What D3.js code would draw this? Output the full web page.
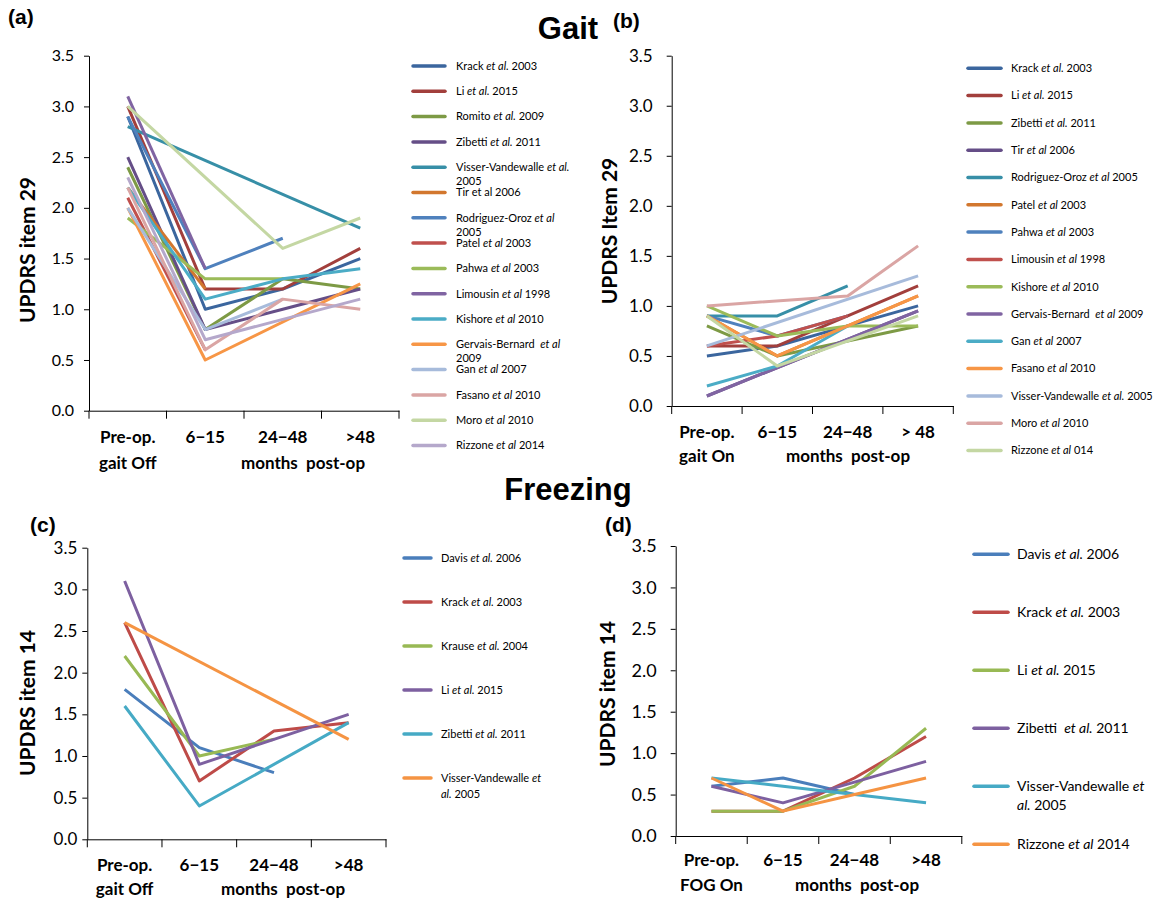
<!DOCTYPE html>
<html><head><meta charset="utf-8">
<script src="https://cdn.jsdelivr.net/npm/d3@7"></script>
<style>
body{margin:0;background:#fff}
svg{display:block}
text{font-family:Lato,"Open Sans",sans-serif;fill:#000}
.title{font-family:"Liberation Sans Narrow","Liberation Sans",sans-serif;font-weight:bold}
</style></head><body>
<svg id="fig" width="1153" height="899"></svg>
<script>
// ---- shared scales ----
const periods = ["pre", "6-15", "24-48", ">48"];
const yTicks = [0, 0.5, 1, 1.5, 2, 2.5, 3, 3.5];

// ---- category tick labels (| = line break) ----
const gaitOffLabels = ["Pre-op.|gait Off", "6\u221215", "24\u221248", ">48"];
const gaitOnLabels = ["Pre-op.|gait On", "6\u221215", "24\u221248", "> 48"];
const fogOffLabels = ["Pre-op.|gait Off", "6\u221215", "24\u221248", ">48"];
const fogOnLabels = ["Pre-op.|FOG On", "6\u221215", "24\u221248", ">48"];

// ---- (a) gait, off medication : UPDRS item 29 ----
const gaitOffStudies = [
  "Krack *et al.* 2003", "Li *et al.* 2015", "Romito *et al.* 2009", "Zibetti *et al.* 2011",
  "Visser-Vandewalle *et al.*|2005", "Tir et al 2006", "Rodriguez-Oroz *et al*|2005", "Patel *et al* 2003",
  "Pahwa *et al* 2003", "Limousin *et al* 1998", "Kishore *et al* 2010", "Gervais-Bernard  *et al*|2009",
  "Gan *et al* 2007", "Fasano *et al* 2010", "Moro *et al* 2010", "Rizzone *et al* 2014"
];
const gaitOffValues = [
  [2.9, 1.0, 1.2, 1.5],
  [3.0, 1.2, 1.2, 1.6],
  [2.4, 0.8, 1.3, 1.2],
  [2.5, 0.8, 1.0, 1.2],
  [2.8, null, null, 1.8],
  [2.2, 1.2, null, null],
  [2.9, 1.4, 1.7, null],
  [2.1, 0.6, null, null],
  [1.9, 1.3, 1.3, null],
  [3.1, 1.4, null, null],
  [2.2, 1.1, 1.3, 1.4],
  [2.0, 0.5, null, 1.25],
  [2.0, 0.8, 1.1, null],
  [2.2, 0.6, 1.1, 1.0],
  [3.0, null, 1.6, 1.9],
  [2.3, 0.7, 0.9, 1.1]
];

// ---- (b) gait, on medication : UPDRS item 29 ----
const gaitOnStudies = [
  "Krack *et al.* 2003", "Li *et al.* 2015", "Zibetti *et al.* 2011", "Tir *et al* 2006",
  "Rodriguez-Oroz *et al* 2005", "Patel *et al* 2003", "Pahwa *et al* 2003", "Limousin *et al* 1998",
  "Kishore *et al* 2010", "Gervais-Bernard  *et al* 2009", "Gan *et al* 2007", "Fasano *et al* 2010",
  "Visser-Vandewalle *et al.* 2005", "Moro *et al* 2010", "Rizzone *et al* 014"
];
const gaitOnValues = [
  [0.5, 0.6, 0.8, 1.0],
  [0.6, 0.6, 0.9, 1.2],
  [0.8, 0.5, null, 0.8],
  [0.1, null, null, 0.95],
  [0.9, 0.9, 1.2, null],
  [0.9, 0.5, 0.8, 1.1],
  [0.9, 0.7, 0.9, null],
  [0.6, 0.7, 0.9, null],
  [1.0, 0.7, 0.8, 0.8],
  [0.1, null, null, 0.95],
  [0.2, 0.4, 0.8, null],
  [0.9, 0.5, 0.8, 1.1],
  [0.6, null, null, 1.3],
  [1.0, null, 1.1, 1.6],
  [0.9, 0.4, null, 0.9]
];

// ---- (c) freezing, off medication : UPDRS item 14 ----
const fogOffStudies = [
  "Davis *et al.* 2006", "Krack *et al.* 2003", "Krause *et al.* 2004", "Li *et al.* 2015",
  "Zibetti *et al.* 2011", "Visser-Vandewalle *et*|*al.* 2005"
];
const fogOffValues = [
  [1.8, 1.1, 0.8, null],
  [2.6, 0.7, 1.3, 1.4],
  [2.2, 1.0, 1.2, null],
  [3.1, 0.9, 1.2, 1.5],
  [1.6, 0.4, null, 1.4],
  [2.6, null, null, 1.2]
];

// ---- (d) freezing, on medication : UPDRS item 14 ----
const fogOnStudies = [
  "Davis *et al.* 2006", "Krack *et al.* 2003", "Li *et al.* 2015", "Zibetti  *et al.* 2011",
  "Visser-Vandewalle *et*|*al.* 2005", "Rizzone *et al* 2014"
];
const fogOnValues = [
  [0.6, 0.7, 0.5, null],
  [0.3, 0.3, 0.7, 1.2],
  [0.3, 0.3, 0.6, 1.3],
  [0.6, 0.4, null, 0.9],
  [0.7, 0.6, 0.5, 0.4],
  [0.7, 0.3, 0.5, 0.7]
];

// ---- Office-style palette: darker, base and lighter accents ----
const darker = ["#3B669E", "#A23F3C", "#7D9A45", "#654E87", "#378FA7", "#D2772E"];
const base = ["#4F81BD", "#C0504D", "#9BBB59", "#8064A2", "#4BACC6", "#F79646"];
const lighter = ["#A7BBDB", "#DAA5A4", "#C4D7A3", "#B5A8CB"];

const svg = d3.select("#fig");

function addRichText(sel, str) {
  str.split("*").forEach((part, i) => {
    if (!part) return;
    sel.append("tspan").attr("font-style", i % 2 ? "italic" : "normal").text(part);
  });
}

function drawPanel(cfg) {
  const g = svg.append("g");
  const x = d3.scaleBand().domain(periods).range([cfg.x0, cfg.x1]);
  const y = d3.scaleLinear().domain([0, 3.5]).range([cfg.yBottom, cfg.yTop]);
  const cx = p => x(p) + x.bandwidth() / 2;

  // y axis
  const ya = g.append("g").attr("transform", `translate(${cfg.x0},0)`)
    .call(d3.axisLeft(y).tickValues(yTicks).tickFormat(d3.format(".1f"))
      .tickSize(5).tickSizeOuter(0).tickPadding(cfg.pad));
  ya.selectAll("text").attr("font-family", "Lato, sans-serif").attr("font-size", cfg.tickFont).attr("fill", "#000");
  ya.selectAll("line, path").attr("stroke", "#000");

  // x axis: baseline with ticks at band edges
  const xa = g.append("g").attr("transform", `translate(0,${cfg.yBottom})`)
    .call(d3.axisBottom(x).tickSize(0).tickFormat(""));
  xa.select("path").attr("stroke", "#000");
  const edges = [cfg.x0].concat(periods.map(p => x(p) + x.bandwidth()));
  g.selectAll(".edge").data(edges).join("line")
    .attr("x1", d => d).attr("x2", d => d)
    .attr("y1", cfg.yBottom).attr("y2", cfg.yBottom + 8)
    .attr("stroke", "#000");

  // category labels
  cfg.labels.forEach((lab, i) => {
    lab.split("|").forEach((ln, j) => {
      g.append("text").attr("x", cx(periods[i]))
        .attr("y", cfg.yBottom + cfg.lab1 + j * cfg.labGap)
        .attr("text-anchor", "middle").attr("font-weight", "bold").attr("font-size", 17).text(ln);
    });
  });
  g.append("text").attr("x", cfg.monthsX).attr("y", cfg.yBottom + cfg.lab1 + cfg.labGap)
    .attr("text-anchor", "middle").attr("font-weight", "bold").attr("font-size", 17)
    .style("white-space", "pre").text("months  post-op");

  // y axis title
  g.append("text").attr("transform", `translate(${cfg.ylabX},${cfg.ylabY}) rotate(-90)`)
    .attr("text-anchor", "middle").attr("font-weight", "bold").attr("font-size", 21).text(cfg.ylab);

  // study lines
  const line = d3.line().x(d => cx(d.p)).y(d => y(d.v));
  cfg.values.forEach((vals, i) => {
    const pts = periods.map((p, k) => ({ p, v: vals[k] })).filter(d => d.v != null);
    g.append("path").attr("d", line(pts)).attr("fill", "none")
      .attr("stroke", cfg.colors[i]).attr("stroke-width", 3)
      .attr("stroke-linejoin", "round");
  });

  // legend
  const lg = g.append("g");
  cfg.studies.forEach((s, i) => {
    const ly = cfg.leg.y0 + i * cfg.leg.dy;
    lg.append("line").attr("x1", cfg.leg.lx0).attr("x2", cfg.leg.lx1)
      .attr("y1", ly).attr("y2", ly).attr("stroke", cfg.colors[i]).attr("stroke-width", 3.5)
      .attr("stroke-linecap", "round");
    s.split("|").forEach((ln, j) => {
      const t = lg.append("text").attr("x", cfg.leg.tx).attr("y", ly + j * cfg.leg.lh)
        .attr("dy", "0.35em").attr("font-size", cfg.leg.font).style("white-space", "pre");
      addRichText(t, ln);
    });
  });
}

drawPanel({
  x0: 89, x1: 399, yTop: 55.7, yBottom: 410.7, pad: 10, tickFont: 16,
  labels: gaitOffLabels, lab1: 32, labGap: 26, monthsX: 303,
  ylab: "UPDRS item 29", ylabX: 35, ylabY: 250,
  values: gaitOffValues, studies: gaitOffStudies,
  colors: darker.concat(base, lighter),
  leg: { y0: 66, dy: 25.3, lx0: 413, lx1: 445, tx: 456, font: 11, lh: 14 }
});

drawPanel({
  x0: 671.7, x1: 953.3, yTop: 55.7, yBottom: 406, pad: 14, tickFont: 17,
  labels: gaitOnLabels, lab1: 32, labGap: 23.5, monthsX: 848,
  ylab: "UPDRS Item 29", ylabX: 617, ylabY: 231,
  values: gaitOnValues, studies: gaitOnStudies,
  colors: darker.concat(base, lighter.slice(0, 3)),
  leg: { y0: 68.3, dy: 27.3, lx0: 968, lx1: 1001, tx: 1011, font: 11, lh: 14 }
});

drawPanel({
  x0: 87.3, x1: 386, yTop: 547.7, yBottom: 839.3, pad: 5, tickFont: 17,
  labels: fogOffLabels, lab1: 32, labGap: 23.5, monthsX: 283,
  ylab: "UPDRS item 14", ylabX: 35, ylabY: 703,
  values: fogOffValues, studies: fogOffStudies,
  colors: ["#4A7EBB", "#BE4B48", "#98B954", "#7D60A0", "#46AAC5", "#F59443"],
  leg: { y0: 558, dy: 44, lx0: 404, lx1: 431, tx: 441, font: 11, lh: 16 }
});

drawPanel({
  x0: 675.7, x1: 961.8, yTop: 546, yBottom: 836, pad: 14, tickFont: 18,
  labels: fogOnLabels, lab1: 30, labGap: 25, monthsX: 857,
  ylab: "UPDRS item 14", ylabX: 615, ylabY: 694,
  values: fogOnValues, studies: fogOnStudies,
  colors: ["#4A7EBB", "#BE4B48", "#98B954", "#7D60A0", "#46AAC5", "#F59443"],
  leg: { y0: 554.3, dy: 58, lx0: 974, lx1: 1008, tx: 1017, font: 14, lh: 19 }
});

// panel titles and letters
svg.append("text").attr("class", "title").attr("x", 568).attr("y", 39)
  .attr("text-anchor", "middle").attr("font-size", 31).text("Gait");
svg.append("text").attr("class", "title").attr("x", 568).attr("y", 500)
  .attr("text-anchor", "middle").attr("font-size", 31).text("Freezing");
[["(a)", 8, 24], ["(b)", 613, 28], ["(c)", 30, 532], ["(d)", 605, 532]].forEach(([s, x, y]) => {
  svg.append("text").attr("class", "title").attr("x", x).attr("y", y)
    .attr("font-size", 21).text(s);
});
</script>
</body></html>
